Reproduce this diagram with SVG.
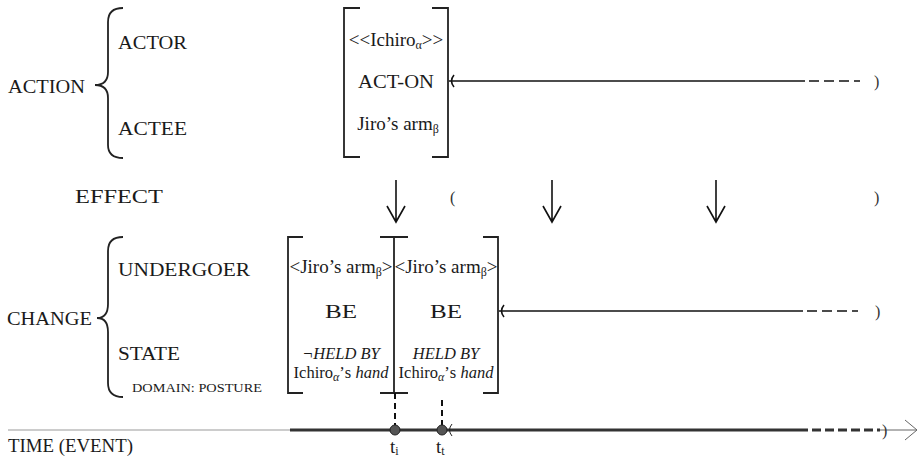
<svg xmlns="http://www.w3.org/2000/svg" width="920" height="462" viewBox="0 0 920 462">
<style>
text{font-family:"Liberation Serif","DejaVu Serif",serif;fill:#1a1a1a;font-size:19px}
.m{text-anchor:middle}
.i{font-style:italic}
.s{font-size:12px}
.sm{font-size:12px}
.st{font-size:16.5px}
.br{fill:none;stroke:#222;stroke-width:1.8}
.ln{fill:none;stroke:#111;stroke-width:1.6}
.ds{fill:none;stroke:#111;stroke-width:1.6;stroke-dasharray:10,5}
.par{font-size:16px;fill:#333}
</style>
<g id="labels">
<path class="br" d="M123,8 Q108,8 108,22 L108,72 Q108,85 95,85 Q108,85 108,98 L108,145 Q108,158 123,158"/>
<text x="8" y="93" textLength="77" lengthAdjust="spacingAndGlyphs">ACTION</text>
<text x="118" y="49" textLength="69" lengthAdjust="spacingAndGlyphs">ACTOR</text>
<text x="118" y="135" textLength="69" lengthAdjust="spacingAndGlyphs">ACTEE</text>
<text x="75" y="203" textLength="88" lengthAdjust="spacingAndGlyphs">EFFECT</text>
<path class="br" d="M123,237 Q108,237 108,251 L108,304 Q108,318 97,318 Q108,318 108,332 L108,383 Q108,397 123,397"/>
<text x="7" y="325" textLength="85" lengthAdjust="spacingAndGlyphs">CHANGE</text>
<text x="118" y="276" textLength="132" lengthAdjust="spacingAndGlyphs">UNDERGOER</text>
<text x="118" y="360" textLength="62" lengthAdjust="spacingAndGlyphs">STATE</text>
<text x="132" y="392" class="s" textLength="130" lengthAdjust="spacingAndGlyphs">DOMAIN:   POSTURE</text>
<text x="8" y="452" textLength="125" lengthAdjust="spacingAndGlyphs">TIME (EVENT)</text>
</g>
<g id="action">
<path class="br" d="M360,8 L344,8 L344,157 L360,157 M432,8 L448,8 L448,157 L432,157"/>
<text x="396" y="46" class="m">&lt;&lt;Ichiro<tspan class="sm" dy="3">α</tspan><tspan dy="-3">&gt;&gt;</tspan></text>
<text x="396" y="88" class="m" textLength="76" lengthAdjust="spacingAndGlyphs">ACT-ON</text>
<text x="398" y="130" class="m">Jiro’s arm<tspan class="sm" dy="3">β</tspan></text>
</g>
<g id="change1">
<path class="br" d="M303,237 L288,237 L288,393 L303,393"/>
<text x="341" y="273" class="m" font-size="18">&lt;Jiro’s arm<tspan class="sm" dy="3">β</tspan><tspan dy="-3">&gt;</tspan></text>
<text x="341" y="318" class="m" textLength="32" lengthAdjust="spacingAndGlyphs">BE</text>
<text x="341" y="359" class="m i st">¬HELD BY</text>
<text x="341" y="378" class="m st">Ichiro<tspan class="sm i" dy="3">α</tspan><tspan dy="-3">’s </tspan><tspan class="i">hand</tspan></text>
</g>
<g id="change2">
<path class="br" d="M380,237 L408,237 M394,237 L394,393 M380,393 L408,393 M483,237 L498,237 L498,393 L483,393"/>
<text x="446" y="273" class="m" font-size="18">&lt;Jiro’s arm<tspan class="sm" dy="3">β</tspan><tspan dy="-3">&gt;</tspan></text>
<text x="446" y="318" class="m" textLength="32" lengthAdjust="spacingAndGlyphs">BE</text>
<text x="446" y="359" class="m i st">HELD BY</text>
<text x="446" y="378" class="m st">Ichiro<tspan class="sm i" dy="3">α</tspan><tspan dy="-3">’s </tspan><tspan class="i">hand</tspan></text>
</g>
<g id="connectors">
<path class="ln" d="M449,81 L805,81"/>
<path class="ds" d="M809,81 L860,81"/>
<path class="ln" d="M454,75 Q449,81 454,87" stroke-width="1"/>
<text x="874" y="87" class="par">)</text>
<path class="ln" d="M396,180 L396,222 M387,206 L396,222 L405,206" stroke-width="1.3"/>
<path class="ln" d="M552,180 L552,222 M543,206 L552,222 L561,206" stroke-width="1.3"/>
<path class="ln" d="M716,180 L716,222 M707,206 L716,222 L725,206" stroke-width="1.3"/>
<text x="450" y="203" class="par">(</text>
<text x="874" y="203" class="par">)</text>
<path class="ln" d="M499,311 L803,311"/>
<path class="ds" d="M807,311 L858,311"/>
<path class="ln" d="M504,305 Q499,311 504,317" stroke-width="1"/>
<text x="875" y="317" class="par">)</text>
<path d="M8,430 L290,430" stroke="#999" stroke-width="1.2"/>
<path d="M290,430 L808,430" stroke="#333" stroke-width="3.2"/>
<path d="M812,430 L880,430" stroke="#333" stroke-width="3.2" stroke-dasharray="9,4"/>
<path d="M880,430 L917,430 M905,420 L917,430 L905,440" stroke="#666" stroke-width="1" fill="none"/>
<text x="882" y="436" class="par">)</text>
<path d="M395,393 L395,425 M442,400 L442,425" stroke="#111" stroke-width="2" stroke-dasharray="6,4"/>
<circle cx="395" cy="430" r="5" fill="#555" stroke="#222" stroke-width="1"/>
<circle cx="442" cy="430" r="5" fill="#555" stroke="#222" stroke-width="1"/>
<path d="M452,424 Q447,430 452,436" fill="none" stroke="#222" stroke-width="1"/>
</g>
<g id="ticks">
<text x="390" y="453">t<tspan class="sm" dy="2">i</tspan></text>
<text x="436" y="453">t<tspan class="sm" dy="2">t</tspan></text>
</g>
</svg>
